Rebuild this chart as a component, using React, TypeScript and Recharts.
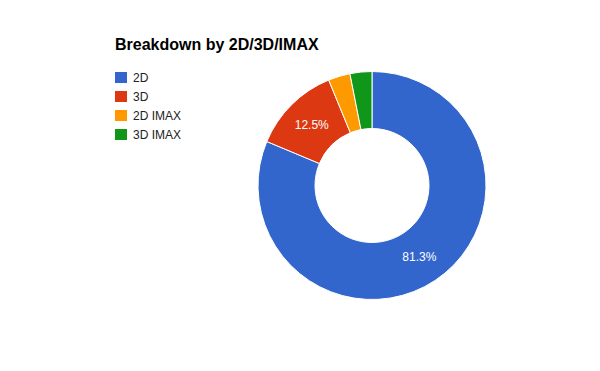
import React from "react";
import { PieChart, Pie, Cell } from "recharts";

const categories = ["2D", "3D", "2D IMAX", "3D IMAX"];
const shares = [81.3, 12.5, 3.1, 3.1];
const colors = ["#3366cc", "#dc3912", "#ff9900", "#109618"];
const titleText = "Breakdown by 2D/3D/IMAX";

const data = categories.map((name, i) => ({ name, value: shares[i] }));

const RADIAN = Math.PI / 180;

const renderLabel = (props: any) => {
  const { cx, cy, midAngle, innerRadius, outerRadius, percent } = props;
  if (percent < 0.05) return null;
  const r = (innerRadius + outerRadius) / 2;
  const x = cx + r * Math.cos(-midAngle * RADIAN);
  const y = cy + r * Math.sin(-midAngle * RADIAN);
  return (
    <text
      x={x}
      y={y}
      fill="#ffffff"
      textAnchor="middle"
      dominantBaseline="central"
      fontFamily="Arial, 'Liberation Sans', sans-serif"
      fontSize={12}
    >
      {(percent * 100).toFixed(1) + "%"}
    </text>
  );
};

export default function App() {
  return (
    <div style={{ position: "absolute", left: 0, top: 0, width: 600, height: 371, background: "#fff" }}>
      <PieChart width={600} height={371} margin={{ top: 0, right: 0, bottom: 0, left: 0 }}>
        <Pie
          data={data}
          dataKey="value"
          nameKey="name"
          cx={372}
          cy={185.5}
          innerRadius={57}
          outerRadius={114}
          startAngle={90}
          endAngle={-270}
          stroke="#ffffff"
          strokeWidth={1}
          label={renderLabel}
          labelLine={false}
          isAnimationActive={false}
        >
          {data.map((d, i) => (
            <Cell key={d.name} fill={colors[i]} />
          ))}
        </Pie>
      </PieChart>
      <svg
        width={600}
        height={371}
        style={{ position: "absolute", left: 0, top: 0, pointerEvents: "none" }}
      >
        <text
          x={115}
          y={50}
          fontFamily="Arial, 'Liberation Sans', sans-serif"
          fontSize={16}
          fontWeight="bold"
          fill="#000000"
        >
          {titleText}
        </text>
        {categories.map((c, i) => (
          <g key={c}>
            <rect x={115} y={72 + i * 19} width={12} height={11} fill={colors[i]} />
            <text
              x={133}
              y={81.5 + i * 19}
              fontFamily="Arial, 'Liberation Sans', sans-serif"
              fontSize={12}
              fill="#222222"
            >
              {c}
            </text>
          </g>
        ))}
      </svg>
    </div>
  );
}
